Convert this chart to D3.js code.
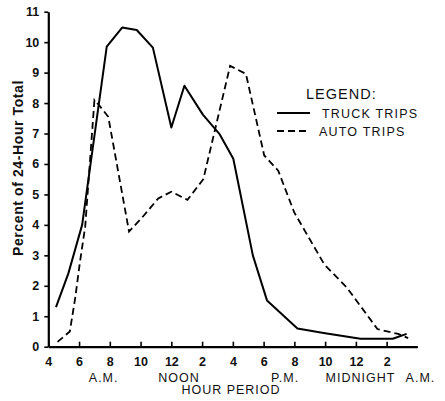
<!DOCTYPE html>
<html><head><meta charset="utf-8">
<script src="https://cdn.jsdelivr.net/npm/d3@7"></script>
<style>
html,body{margin:0;padding:0;background:#fff;}
text{font-family:"Liberation Sans",Arial,sans-serif;fill:#111;}
</style></head><body>
<svg id="c" width="445" height="401"></svg>
<script>
// Data (hour of day, 4 = 4 A.M., 28 = 4 A.M. next day)
const truckHours  = [4.5,5.3,6.2,7.8,8.8,9.75,10.8,12.0,12.85,14.05,15.15,16.03,17.3,18.22,20.2,22.0,24.3,26.4,27.3];
const truckValues = [1.3,2.4,4.0,9.85,10.48,10.4,9.82,7.2,8.57,7.62,6.97,6.17,3.0,1.52,0.6,0.44,0.26,0.26,0.42];
const autoHours   = [4.6,5.4,5.75,6.05,6.4,7.0,7.35,7.9,9.25,10.2,11.15,12.0,13.05,14.08,15.82,16.85,18.04,18.95,20.0,21.95,23.4,25.4,26.75,27.4];
const autoValues  = [0.16,0.5,1.6,2.75,3.95,8.1,7.9,7.55,3.78,4.3,4.87,5.09,4.82,5.5,9.22,8.96,6.28,5.78,4.4,2.7,1.95,0.58,0.42,0.28];
const xTickValues = [4,6,8,10,12,14,16,18,20,22,24,26];
const xTickLabels = ["4","6","8","10","12","2","4","6","8","10","12","2"];
const yTickValues = [0,1,2,3,4,5,6,7,8,9,10,11];
const periodLabels = ["A.M.","NOON","P.M.","MIDNIGHT","A.M."];
const periodHours  = [7.6,12.5,19.4,24.3,28.2];
const seriesNames = ["TRUCK TRIPS","AUTO TRIPS"];

const svg = d3.select("#c");
const x = d3.scaleLinear().domain([4,28]).range([48.3,417.4]);
const y = d3.scaleLinear().domain([0,11]).range([346.7,11.7]);

// x axis
const xAxis = svg.append("g").attr("transform","translate(0,346.7)")
  .call(d3.axisBottom(x).tickValues(xTickValues).tickFormat((d,i)=>xTickLabels[i]).tickSizeInner(-5).tickSizeOuter(0).tickPadding(10));
xAxis.select(".domain").attr("stroke","#000").attr("stroke-width",2.2);
xAxis.selectAll(".tick line").attr("stroke","#000").attr("stroke-width",1.6);
xAxis.selectAll(".tick text").attr("font-size",12.5).attr("font-weight","bold").attr("fill","#111")
  .attr("font-family","'Liberation Sans',Arial,sans-serif");

// y axis
const yAxis = svg.append("g").attr("transform","translate(48.3,0)")
  .call(d3.axisLeft(y).tickValues(yTickValues).tickFormat(d3.format("d")).tickSizeInner(4).tickSizeOuter(0).tickPadding(5));
yAxis.select(".domain").attr("stroke","#000").attr("stroke-width",2.2);
yAxis.selectAll(".tick line").attr("stroke","#000").attr("stroke-width",1.6);
yAxis.selectAll(".tick text").attr("font-size",12.5).attr("font-weight","bold").attr("fill","#111")
  .attr("font-family","'Liberation Sans',Arial,sans-serif");

// y title
svg.append("text").attr("transform","translate(23,168) rotate(-90)")
  .attr("text-anchor","middle").attr("font-size",14).attr("font-weight","bold")
  .attr("letter-spacing",0.6).text("Percent of 24-Hour Total");

// period labels
svg.selectAll("text.period").data(periodLabels).enter().append("text")
  .attr("class","period").attr("x",(d,i)=>x(periodHours[i])).attr("y",382)
  .attr("text-anchor","middle").attr("font-size",12.5).attr("letter-spacing",1)
  .text(d=>d);
svg.append("text").attr("x",231).attr("y",394).attr("text-anchor","middle")
  .attr("font-size",12.5).attr("letter-spacing",1).text("HOUR PERIOD");

// lines
const line = d3.line().x(d=>x(d[0])).y(d=>y(d[1]));
const truck = truckHours.map((h,i)=>[h,truckValues[i]]);
const auto = autoHours.map((h,i)=>[h,autoValues[i]]);
svg.append("path").datum(auto).attr("d",line).attr("fill","none").attr("stroke","#000")
  .attr("stroke-width",1.8).attr("stroke-dasharray","7,4");
svg.append("path").datum(truck).attr("d",line).attr("fill","none").attr("stroke","#000")
  .attr("stroke-width",2).attr("stroke-linejoin","round");

// legend
svg.append("text").attr("x",306).attr("y",99).attr("font-size",14.5).attr("letter-spacing",1)
  .text("LEGEND:");
const leg = svg.append("g");
seriesNames.forEach((n,i)=>{
  const yy = 113 + i*18;
  leg.append("line").attr("x1",277).attr("x2",310).attr("y1",yy).attr("y2",yy)
    .attr("stroke","#000").attr("stroke-width",2)
    .attr("stroke-dasharray", i===1 ? "7,4" : null);
  leg.append("text").attr("x", i===0 ? 322 : 319).attr("y",yy+5).attr("font-size",12.5)
    .attr("letter-spacing",1.2).text(n);
});
</script>
</body></html>
